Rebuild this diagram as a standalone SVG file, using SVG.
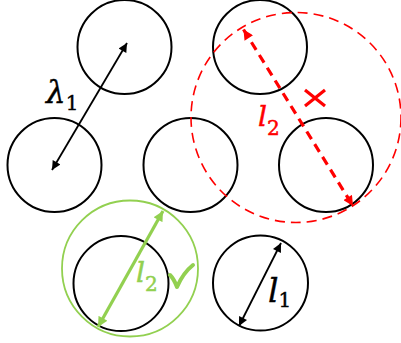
<svg xmlns="http://www.w3.org/2000/svg" width="401" height="343" viewBox="0 0 401 343">
<style>
.c{fill:none;stroke:#000;stroke-width:2}
.lbl{font-family:"DejaVu Serif","Liberation Serif",serif;font-style:italic}
.sub{font-family:"DejaVu Serif","Liberation Serif",serif;font-style:normal}
</style>
<defs>
<marker id="ak" viewBox="0 0 10 10" refX="10" refY="5" markerUnits="userSpaceOnUse" markerWidth="11" markerHeight="9" orient="auto-start-reverse"><path d="M0,0 L10,5 L0,10 z" fill="#000"/></marker>
<marker id="ar" viewBox="0 0 10 10" refX="10" refY="5" markerUnits="userSpaceOnUse" markerWidth="11" markerHeight="10" orient="auto-start-reverse"><path d="M0,0 L10,5 L0,10 z" fill="#FF0000"/></marker>
<marker id="ag" viewBox="0 0 10 10" refX="10" refY="5" markerUnits="userSpaceOnUse" markerWidth="11" markerHeight="10" orient="auto-start-reverse"><path d="M0,0 L10,5 L0,10 z" fill="#92D050"/></marker>
</defs>
<rect width="401" height="343" fill="#fff"/>
<g id="n1"><circle class="c" cx="124.5" cy="47" r="47"/></g>
<g id="n2"><circle class="c" cx="260" cy="47" r="47"/></g>
<g id="n3"><circle class="c" cx="54.5" cy="165" r="47"/></g>
<g id="n4"><circle class="c" cx="190.5" cy="165" r="47"/></g>
<g id="n5"><circle class="c" cx="326" cy="165" r="47"/></g>
<g id="n6"><circle class="c" cx="121" cy="283.5" r="47.5"/></g>
<g id="n7"><circle class="c" cx="260.5" cy="283" r="47.5"/></g>
<g id="red-region"><circle cx="296" cy="117.5" r="105" fill="none" stroke="#FF0000" stroke-width="1.6" stroke-dasharray="10,6"/></g>
<g id="green-region"><circle cx="130" cy="268.5" r="68" fill="none" stroke="#92D050" stroke-width="1.8"/></g>
<g id="connectors">
<line x1="52" y1="170" x2="127" y2="43" stroke="#000" stroke-width="1.8" marker-start="url(#ak)" marker-end="url(#ak)"/>
<line x1="239" y1="326" x2="281" y2="243" stroke="#000" stroke-width="1.8" marker-start="url(#ak)" marker-end="url(#ak)"/>
<line x1="243.5" y1="29.5" x2="353" y2="206" stroke="#FF0000" stroke-width="3.2" stroke-dasharray="9,6" marker-start="url(#ar)" marker-end="url(#ar)"/>
<line x1="98" y1="327" x2="163" y2="211" stroke="#92D050" stroke-width="3.2" marker-start="url(#ag)" marker-end="url(#ag)"/>
</g>
<g id="labels">
<text class="lbl" x="46" y="103" font-size="31" stroke="#000" stroke-width="0.4">λ<tspan class="sub" font-size="20" dy="7">1</tspan></text>
<text class="lbl" x="268" y="302" font-size="33" stroke="#000" stroke-width="0.4">l<tspan class="sub" font-size="20" dy="5">1</tspan></text>
<text class="lbl" x="258" y="126" font-size="28" fill="#FF0000" stroke="#FF0000" stroke-width="0.5">l<tspan class="sub" font-size="20" dy="9">2</tspan></text>
<text class="lbl" x="136" y="282" font-size="28" fill="#92D050" stroke="#92D050" stroke-width="0.5">l<tspan class="sub" font-size="20" dy="9">2</tspan></text>
<path d="M305,90 L325,106 M325,90 L305,106" stroke="#FF0000" stroke-width="3.2" fill="none"/>
<path d="M170,275 Q174,279 177,287 Q183,273 193,265" stroke="#92D050" stroke-width="4" fill="none" stroke-linecap="round" stroke-linejoin="round"/>
</g>
</svg>
